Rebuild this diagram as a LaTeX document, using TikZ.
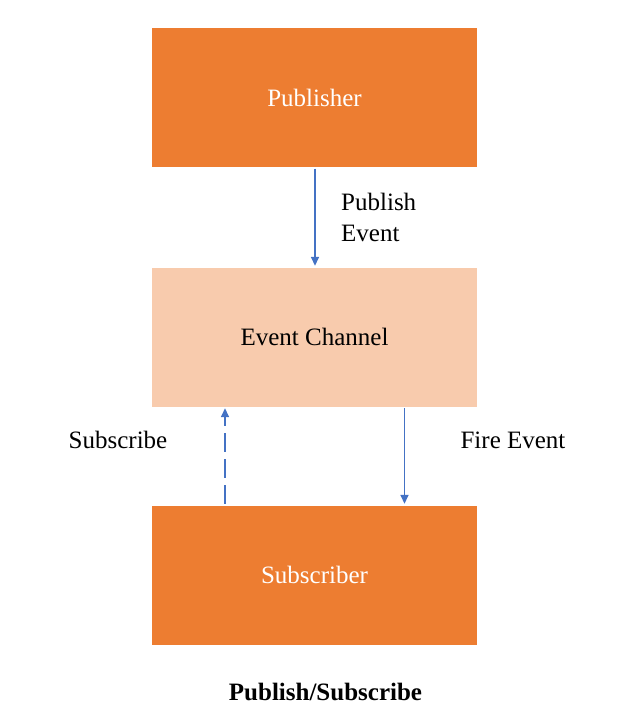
\documentclass[tikz,border=0pt]{standalone}
\usepackage{fontspec}
\setmainfont{Liberation Serif}
\usetikzlibrary{arrows.meta}
\definecolor{orangeA}{HTML}{ED7D31}
\definecolor{peach}{HTML}{F8CBAD}
\definecolor{arrowblue}{HTML}{4472C4}
\tikzset{
  box/.style={minimum width=325pt, minimum height=139pt, inner sep=0pt, draw=none, font=\fontsize{25}{30}\selectfont},
  conn/.style={draw=arrowblue, line width=1.5pt, -{Triangle[length=9pt,width=8pt]}, shorten >=1.5pt, shorten <=1.5pt},
  lbl/.style={font=\fontsize{25}{31}\selectfont, inner sep=0pt, align=left}
}
\begin{document}
\begin{tikzpicture}[x=1pt,y=-1pt]
\useasboundingbox (0,0) rectangle (632,721);
\node[box, fill=orangeA, text=white] (pub) at (314.5,97.5) {Publisher};
\node[box, fill=peach, text=black] (ec) at (314.5,337) {Event Channel};
\node[box, fill=orangeA, text=white] (sub) at (314.5,575) {Subscriber};
\coordinate (px) at (315,0);
\coordinate (sx) at (225,0);
\coordinate (fx) at (404.5,0);
\draw[conn] (px |- pub.south) -- (px |- ec.north);
\draw[conn, dash pattern=on 19pt off 7pt] (sx |- sub.north) -- (sx |- ec.south);
\draw[conn] (fx |- ec.south) -- (fx |- sub.north);
\node[lbl, anchor=west] (pe) at (341,217) {Publish\\Event};
\node[lbl] (sl) at (118,440) {Subscribe};
\node[lbl] (fl) at (513,440) {Fire Event};
\node[lbl, font=\bfseries\fontsize{25}{30}\selectfont] (cap) at (325.5,692) {Publish/Subscribe};
\end{tikzpicture}
\end{document}
